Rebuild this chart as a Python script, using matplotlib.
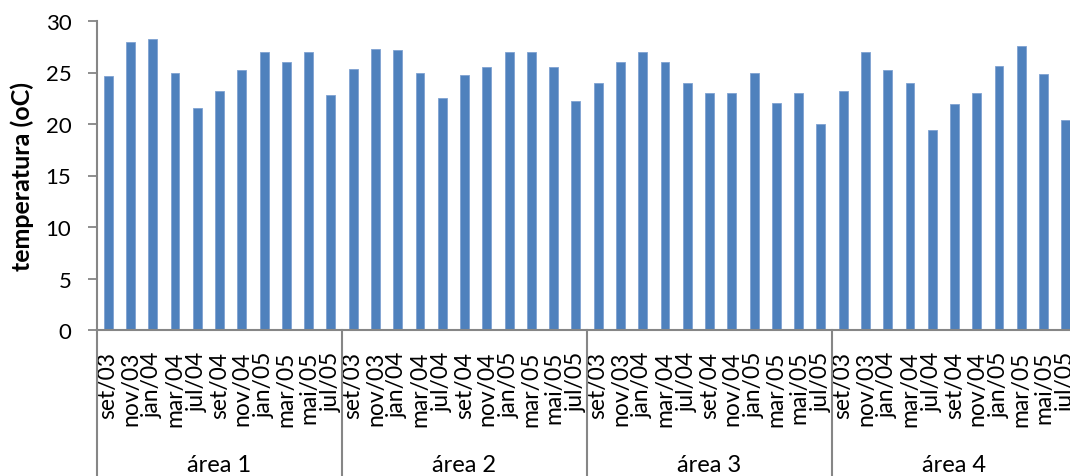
import numpy as np
import matplotlib
matplotlib.use("Agg")
import matplotlib.pyplot as plt

plt.rcParams['font.family'] = ['Lato', 'DejaVu Sans']

months = ['set/03', 'nov/03', 'jan/04', 'mar/04', 'jul/04', 'set/04',
          'nov/04', 'jan/05', 'mar/05', 'mai/05', 'jul/05']
areas = ['área 1', 'área 2', 'área 3', 'área 4']

area1 = [24.7, 28.0, 28.3, 25.0, 21.6, 23.2, 25.2, 27.0, 26.0, 27.0, 22.8]
area2 = [25.3, 27.3, 27.2, 25.0, 22.5, 24.8, 25.5, 27.0, 27.0, 25.5, 22.2]
area3 = [24.0, 26.0, 27.0, 26.0, 24.0, 23.0, 23.0, 25.0, 22.0, 23.0, 20.0]
area4 = [23.2, 27.0, 25.2, 24.0, 19.4, 21.9, 23.0, 25.6, 27.6, 24.9, 20.4]

values = area1 + area2 + area3 + area4
labels = months * len(areas)
x = np.arange(len(values))

axis_color = '#868686'
bar_color = '#4F81BD'

W, H = 1070, 477
fig = plt.figure(figsize=(W / 100, H / 100), dpi=100)
# axes reaches a bit past the right edge, as in the original
ax = fig.add_axes([97 / W, (H - 331) / H, 980 / W, 309 / H])

ax.bar(x, values, width=0.4, color=bar_color, edgecolor='#7FA2D2', linewidth=0.6)

ax.set_xlim(-0.5, len(values) - 0.5)
ax.set_ylim(0, 30)
ax.set_yticks([0, 5, 10, 15, 20, 25, 30])
ax.tick_params(axis='y', length=6.5, width=1.3, color=axis_color, labelsize=16, pad=12)
ax.set_xticks(x)
ax.set_xticklabels(labels, rotation=90, fontsize=16.5, va='top', ha='center')
ax.tick_params(axis='x', length=0, pad=15)

for side in ['top', 'right']:
    ax.spines[side].set_visible(False)
for side in ['left', 'bottom']:
    ax.spines[side].set_color(axis_color)
    ax.spines[side].set_linewidth(1.5)

ax.set_ylabel('temperatura (oC)', fontsize=18, fontweight='bold', labelpad=8)

# group separators and area names below the month labels
n = len(months)
trans = ax.get_xaxis_transform()
bottom = -146 / 309
for i in range(len(areas) + 1):
    xb = i * n - 0.5
    ax.plot([xb, xb], [0, bottom], transform=trans, color=axis_color,
            linewidth=1.5, clip_on=False)
for i, name in enumerate(areas):
    ax.text(i * n + (n - 1) / 2, -134 / 309, name, transform=trans,
            ha='center', va='center', fontsize=17)

fig.savefig('out.png', dpi=100)
